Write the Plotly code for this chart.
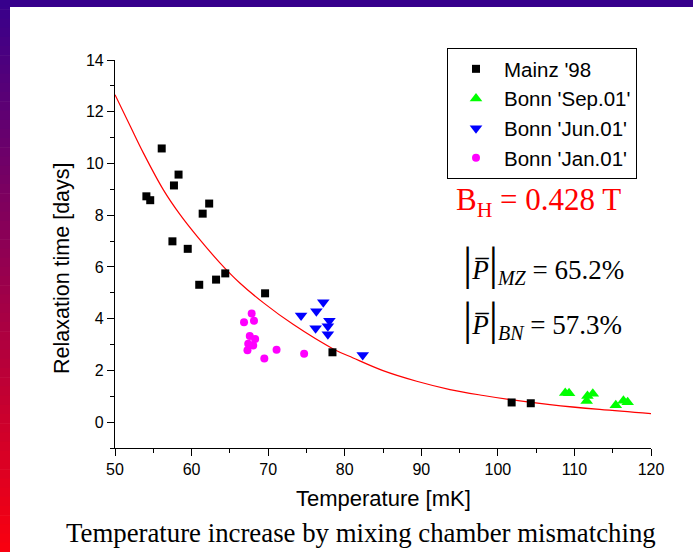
import plotly.graph_objects as go

# ---------------- data ----------------
mainz_T = [54.1, 54.6, 56.1, 57.5, 57.7, 58.3, 59.5, 61.0, 61.45, 62.3, 63.2, 64.4, 69.6, 78.4, 101.8, 104.3]
mainz_tau = [8.73, 8.58, 10.58, 6.99, 9.15, 9.57, 6.70, 5.31, 8.06, 8.45, 5.51, 5.75, 4.98, 2.70, 0.76, 0.73]

sep_T = [108.8, 109.3, 111.7, 112.4, 111.6, 115.4, 116.4, 116.95]
sep_tau = [1.13, 1.12, 1.01, 1.10, 0.82, 0.65, 0.83, 0.77]

jun_T = [77.2, 74.3, 76.3, 78.0, 76.2, 77.8, 77.8, 82.35]
jun_tau = [4.63, 4.12, 4.29, 3.92, 3.63, 3.71, 3.40, 2.60]

jan_T = [66.85, 67.85, 68.15, 67.6, 68.3, 67.4, 68.05, 67.3, 71.1, 69.5, 74.7]
jan_tau = [3.86, 4.20, 3.92, 3.33, 3.21, 3.03, 2.96, 2.78, 2.80, 2.46, 2.64]

fit_T = [50, 52, 53.7, 56.3, 58.5, 60.7, 63.7, 66.3, 69.4, 73.3, 78.5, 81.1, 85, 89.4, 93.75, 98.1, 101.4, 106.8, 113.3, 120]
fit_tau = [12.66, 11.44, 10.41, 8.99, 8.02, 7.19, 6.16, 5.38, 4.61, 3.77, 2.83, 2.48, 1.99, 1.58, 1.26, 1.03, 0.88, 0.68, 0.49, 0.33]

series_names = ["Mainz '98", "Bonn 'Sep.01'", "Bonn 'Jun.01'", "Bonn 'Jan.01'"]
x_ticks = [50, 60, 70, 80, 90, 100, 110, 120]
y_ticks = [0, 2, 4, 6, 8, 10, 12, 14]

# ---------------- layout geometry ----------------
W, H = 693, 552
L, R, T, B = 115, 42, 60, 104
PW, PH = W - L - R, H - T - B


def px(xp):
    return (xp - L) / PW


def py(yp):
    return (H - B - yp) / PH


SANS = "Arial, Liberation Sans, sans-serif"
SERIF = "Times New Roman, Liberation Serif, serif"

fig = go.Figure()

fig.add_trace(go.Scatter(x=fit_T, y=fit_tau, mode="lines", line=dict(color="#ff0000", width=1.2, shape="spline"),
                         showlegend=False, hoverinfo="skip"))
fig.add_trace(go.Scatter(x=mainz_T, y=mainz_tau, mode="markers", name=series_names[0],
                         marker=dict(symbol="square", size=8, color="#000000")))
fig.add_trace(go.Scatter(x=sep_T, y=sep_tau, mode="markers", name=series_names[1],
                         marker=dict(symbol="triangle-up", size=11, color="#00ff00")))
fig.add_trace(go.Scatter(x=jun_T, y=jun_tau, mode="markers", name=series_names[2],
                         marker=dict(symbol="triangle-down", size=11, color="#0000ff")))
fig.add_trace(go.Scatter(x=jan_T, y=jan_tau, mode="markers", name=series_names[3],
                         marker=dict(symbol="circle", size=8, color="#ff00ff")))

# ---------------- decorative frame (slide background) ----------------
shapes = []
n = 60
c0 = (55, 0, 140)
c1 = (250, 0, 15)
for i in range(n):
    t = (i + 0.5) / n
    col = "rgb(%d,%d,%d)" % tuple(round(a + (b - a) * t) for a, b in zip(c0, c1))
    y0p = H * i / n
    y1p = H * (i + 1) / n + 0.6
    shapes.append(dict(type="rect", xref="paper", yref="paper", x0=px(0), x1=px(10),
                       y0=py(y1p), y1=py(y0p), fillcolor=col, line=dict(width=0), layer="below"))
shapes.append(dict(type="rect", xref="paper", yref="paper", x0=px(0), x1=px(W), y0=py(7), y1=py(0),
                   fillcolor="rgb(55,0,140)", line=dict(width=0), layer="below"))

BAR = "<span style='font-size:46px'>|</span>"
annotations = [
    dict(text="Relaxation time [days]", x=px(62), y=py(268), xref="paper", yref="paper", textangle=-90,
         showarrow=False, font=dict(family=SANS, size=21.5, color="black"), xanchor="center", yanchor="middle"),
    dict(text="Temperature [mK]", x=px(383), y=py(498), xref="paper", yref="paper",
         showarrow=False, font=dict(family=SANS, size=22, color="black"), xanchor="center", yanchor="middle"),
    dict(text="Temperature increase by mixing chamber mismatching", x=px(361), y=py(533), xref="paper", yref="paper",
         showarrow=False, font=dict(family=SERIF, size=26.8, color="black"), xanchor="center", yanchor="middle"),
    dict(text="B<sub>H</sub> = 0.428 T", x=px(454), y=py(202), xref="paper", yref="paper",
         showarrow=False, font=dict(family=SERIF, size=31, color="#ff0000"), xanchor="left", yanchor="middle"),
    dict(text=BAR + "<i>P\u0305</i>" + BAR + "<sub><i><span style='font-size:20px'>MZ</span></i></sub> = 65.2%",
         x=px(461), y=py(263), xref="paper", yref="paper",
         showarrow=False, font=dict(family=SERIF, size=27, color="black"), xanchor="left", yanchor="middle"),
    dict(text=BAR + "<i>P\u0305</i>" + BAR + "<sub><i><span style='font-size:20px'>BN</span></i></sub> = 57.3%",
         x=px(461), y=py(318), xref="paper", yref="paper",
         showarrow=False, font=dict(family=SERIF, size=27, color="black"), xanchor="left", yanchor="middle"),
]

axis_common = dict(showgrid=False, zeroline=False, showline=True, linecolor="black", linewidth=1.2,
                   ticks="outside", ticklen=7, tickwidth=1.2, tickcolor="black",
                   tickfont=dict(family=SANS, size=16, color="black"), mirror=False)

fig.update_layout(
    width=W, height=H,
    margin=dict(l=L, r=R, t=T, b=B, pad=0),
    paper_bgcolor="white", plot_bgcolor="white",
    xaxis=dict(range=[50, 120], tickvals=x_ticks, ticktext=[str(v) for v in x_ticks],
               minor=dict(tickvals=[55, 65, 75, 85, 95, 105, 115], ticks="outside", ticklen=4, tickcolor="black", tickwidth=1.2),
               **axis_common),
    yaxis=dict(range=[-1, 14], tickvals=y_ticks, ticktext=[str(v) for v in y_ticks],
               minor=dict(tickvals=[-1, 1, 3, 5, 7, 9, 11, 13], ticks="outside", ticklen=4, tickcolor="black", tickwidth=1.2),
               **axis_common),
    legend=dict(x=px(447), y=py(48), xanchor="left", yanchor="top", bgcolor="white",
                bordercolor="black", borderwidth=1, font=dict(family=SANS, size=20.5, color="black"),
                itemwidth=46, tracegroupgap=0),
    shapes=shapes,
    annotations=annotations,
    showlegend=True,
)

fig.write_html("out.html")
